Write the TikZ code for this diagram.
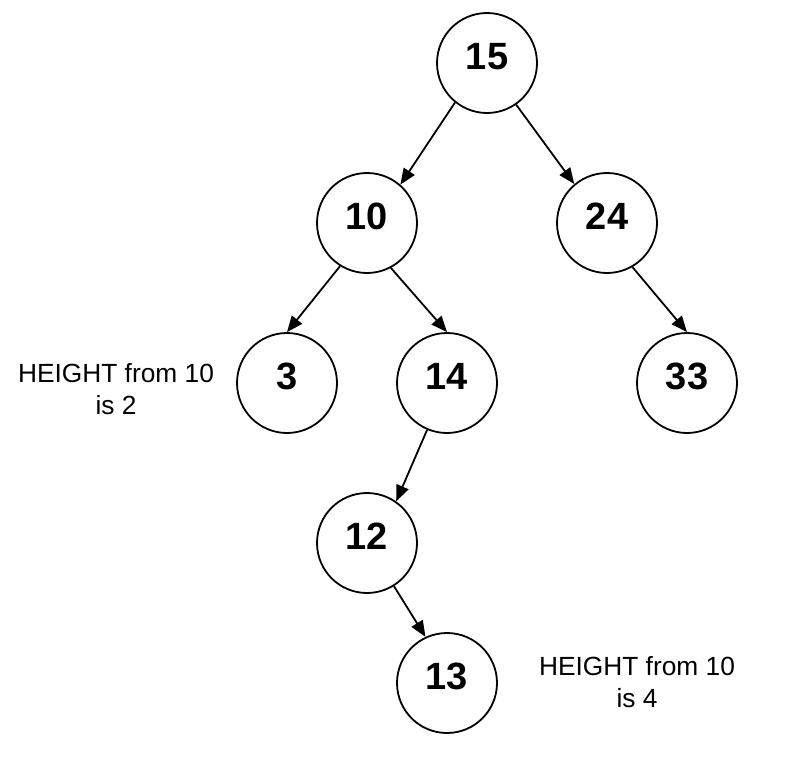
\documentclass[tikz,border=0pt]{standalone}
\usepackage{fontspec}
\setmainfont{Liberation Sans}
\usetikzlibrary{arrows.meta}
\begin{document}
\begin{tikzpicture}[x=1pt,y=-1pt,
  treenode/.style={circle,draw=black,line width=1.8pt,minimum size=100pt,inner sep=0pt,
    font=\fontsize{38}{40}\selectfont\bfseries,text height=27.2pt,text depth=14pt},
  edge/.style={draw=black,line width=1.8pt,-{Triangle[length=16pt,width=13pt]}},
  note/.style={font=\fontsize{26.3}{31.5}\selectfont,align=center,inner sep=0pt}]
\useasboundingbox (0,0) rectangle (795,771);
\node[treenode] (n15) at (487,63) {15};
\node[treenode] (n10) at (367,223) {10};
\node[treenode] (n24) at (607,223) {24};
\node[treenode] (n3) at (287,383) {3};
\node[treenode] (n14) at (447,383) {14};
\node[treenode] (n33) at (687,383) {33};
\node[treenode] (n12) at (367,543) {12};
\node[treenode] (n13) at (447,683) {13};
\draw[edge] (n15.231) -- (n10.49);
\draw[edge] (n15.305) -- (n24.130);
\draw[edge] (n10.238) -- (n3.north);
\draw[edge] (n10.298) -- (n14.north);
\draw[edge] (n24.300) -- (n33.north);
\draw[edge] (n14.247) -- (n12.55);
\draw[edge] (n12.302) -- (n13.115);
\node[note] (h2) at (116,389) {HEIGHT from 10\\is 2};
\node[note] (h4) at (637,682) {HEIGHT from 10\\is 4};
\end{tikzpicture}
\end{document}
